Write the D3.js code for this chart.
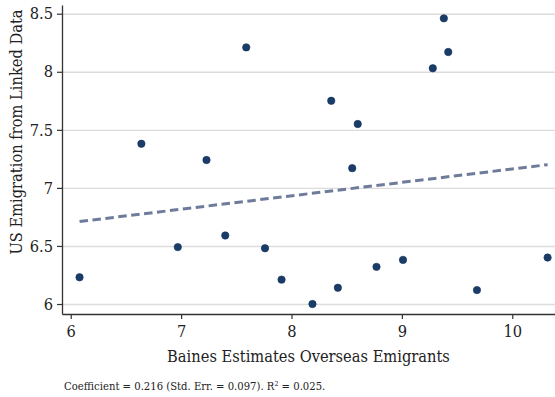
<!DOCTYPE html>
<html>
<head>
<meta charset="utf-8">
<script src="https://cdn.jsdelivr.net/npm/d3@7"></script>
<style>
  body { margin: 0; background: #fff; }
  svg text { font-family: "DejaVu Serif Condensed", "DejaVu Serif", serif; fill: #222; }
</style>
</head>
<body>
<svg id="chart" width="555" height="397"></svg>
<script>
// Baines estimates (x) vs US emigration from linked data (y)
const bainesX = [6.08, 6.64, 6.97, 7.23, 7.40, 7.59, 7.76, 7.91, 8.19, 8.36,
                 8.42, 8.55, 8.60, 8.77, 9.01, 9.28, 9.38, 9.42, 9.68, 10.32];
const usEmigY = [6.23, 7.38, 6.49, 7.24, 6.59, 8.21, 6.48, 6.21, 6.00, 7.75,
                 6.14, 7.17, 7.55, 6.32, 6.38, 8.03, 8.46, 8.17, 6.12, 6.40];
const fitX = [6.08, 10.32];
const fitY = [6.71, 7.20];
const xTicks = [6, 7, 8, 9, 10];
const yTicks = [6, 6.5, 7, 7.5, 8, 8.5];

const svg = d3.select("#chart");
const margin = { top: 5, right: 0, bottom: 83, left: 62 };
const width = 555 - margin.left - margin.right;
const height = 397 - margin.top - margin.bottom;

const x = d3.scaleLinear().domain([5.921, 10.387]).range([0, width]);
const y = d3.scaleLinear().domain([5.914, 8.575]).range([height, 0]);

const g = svg.append("g")
  .attr("transform", "translate(" + margin.left + "," + margin.top + ")");

// horizontal grid
g.append("g")
  .attr("class", "grid")
  .call(d3.axisLeft(y).tickValues(yTicks).tickSize(-width).tickFormat(""))
  .call(s => s.select(".domain").remove())
  .call(s => s.selectAll("line").attr("stroke", "#dcdcdc").attr("stroke-width", 1.4));

// fitted line
g.append("path")
  .datum(fitX.map((d, i) => [d, fitY[i]]))
  .attr("d", d3.line().x(d => x(d[0])).y(d => y(d[1])))
  .attr("fill", "none")
  .attr("stroke", "#6f7b9a")
  .attr("stroke-width", 3)
  .attr("stroke-dasharray", "8.5,4.5");

// points
g.selectAll(".dot")
  .data(bainesX.map((d, i) => [d, usEmigY[i]]))
  .enter()
  .append("circle")
  .attr("class", "dot")
  .attr("cx", d => x(d[0]))
  .attr("cy", d => y(d[1]))
  .attr("r", 3.7)
  .attr("fill", "#1a3c68")
  .attr("stroke", "#12305a")
  .attr("stroke-width", 0.6);

// axes
const xAxis = g.append("g")
  .attr("transform", "translate(0," + height + ")")
  .call(d3.axisBottom(x).tickValues(xTicks).tickSize(5).tickSizeOuter(0).tickFormat(d3.format("d")));
const yAxis = g.append("g")
  .call(d3.axisLeft(y).tickValues(yTicks).tickSize(5).tickSizeOuter(0).tickFormat(d => d));

[xAxis, yAxis].forEach(a => {
  a.select(".domain").attr("stroke", "#333").attr("stroke-width", 1.3);
  a.selectAll(".tick line").attr("stroke", "#333").attr("stroke-width", 1.2);
  a.selectAll(".tick text").style("font-size", "16.3px").attr("fill", "#222");
});
xAxis.selectAll(".tick text").attr("dy", "0.95em");
yAxis.selectAll(".tick text").attr("dx", "-1px");

// axis titles
svg.append("text")
  .attr("x", margin.left + width / 2)
  .attr("y", 362)
  .attr("text-anchor", "middle")
  .style("font-size", "16.3px")
  .text("Baines Estimates Overseas Emigrants");

svg.append("text")
  .attr("transform", "translate(22," + (margin.top + 127) + ") rotate(-90)")
  .attr("text-anchor", "middle")
  .style("font-size", "16.3px")
  .text("US Emigration from Linked Data");

// note
const note = svg.append("text")
  .attr("x", 64)
  .attr("y", 390)
  .style("font-size", "11.2px");
note.append("tspan").text("Coefficient = 0.216 (Std. Err. = 0.097). R");
note.append("tspan").attr("dy", "-4").style("font-size", "7px").text("2");
note.append("tspan").attr("dy", "4").text(" = 0.025.");
</script>
</body>
</html>
